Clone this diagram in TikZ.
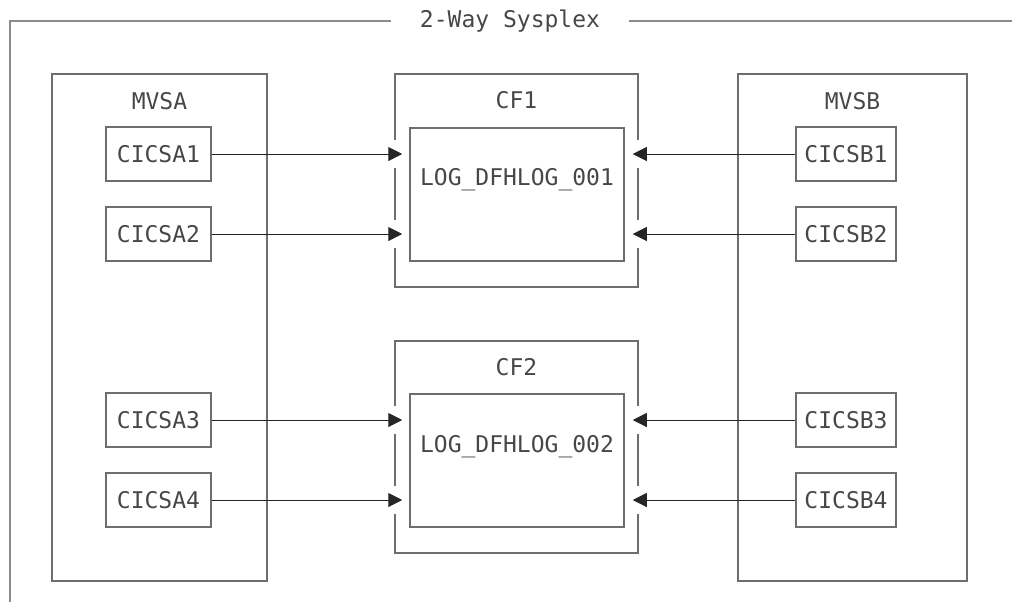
\documentclass[tikz,border=0pt]{standalone}
\usepackage{fontspec}
\setmonofont{DejaVu Sans Mono}
\usetikzlibrary{arrows.meta}
\definecolor{boxgray}{HTML}{6E6E6E}
\definecolor{framegray}{HTML}{8C8C8C}
\definecolor{linegray}{HTML}{262626}
\definecolor{txtgray}{HTML}{474747}
\tikzset{
    sysbox/.style 2 args={draw=boxgray, line width=0.75pt, inner sep=0pt,
        minimum width=#1, minimum height=#2},
    link/.style={draw=linegray, line width=0.5pt,
        -{Triangle[length=7pt,width=7pt]}},
    frame/.style={draw=framegray, line width=1pt},
}
\begin{document}
\begin{tikzpicture}[x=0.5pt,y=-0.5pt,
        every node/.style={font=\ttfamily\fontsize{11.5}{13}\selectfont, text=txtgray}]
        \useasboundingbox (0,0) rectangle (1012,602);
        %% sysplex frame
        \node[inner xsep=14.5pt] (sysplex) at (510,21) {2-Way Sysplex};
        \draw[frame] (sysplex.west) -- (10,21) -- (10,602);
        \draw[frame] (sysplex.east) -- (1012,21);
        %% MVS images
        \node[sysbox={107.5pt}{253.5pt}] (mvsa) at (159.5,327.5) {};
        \node (mvsalabel) at (159.5,101) {MVSA};
        \node[sysbox={114.5pt}{253.5pt}] (mvsb) at (852.5,327.5) {};
        \node (mvsblabel) at (852.5,101) {MVSB};
        \foreach \i/\y in {1/154,2/234,3/420,4/500} {
            \node[sysbox={52.5pt}{27pt}] (cicsa\i) at (158.5,\y) {CICSA\i};
            \node[sysbox={50pt}{27pt}] (cicsb\i) at (846,\y) {CICSB\i};
        }
        %% coupling facilities
        \node[sysbox={121.5pt}{106.5pt}] (cf1) at (516.5,180.5) {};
        \node (cf1label) at (516.5,100) {CF1};
        \node[sysbox={107pt}{66.5pt}] (log1) at (517,194.5) {};
        \node (log1label) at (517,180) {LOG\_DFHLOG\_001};
        \node[sysbox={121.5pt}{106pt}] (cf2) at (516.5,447) {};
        \node (cf2label) at (516.5,367) {CF2};
        \node[sysbox={107pt}{66.5pt}] (log2) at (517,460.5) {};
        \node (log2label) at (517,447) {LOG\_DFHLOG\_002};
        %% openings in the CF walls
        \foreach \i/\cf in {1/cf1,2/cf1,3/cf2,4/cf2} {
            \fill[white] (\cf.west |- cicsa\i) ++(-3,-14) rectangle ++(6,28);
            \fill[white] (\cf.east |- cicsb\i) ++(-3,-14) rectangle ++(6,28);
        }
        %% log stream connections
        \foreach \i/\lg in {1/log1,2/log1,3/log2,4/log2} {
            \draw[link] (cicsa\i.east) -- ([xshift=-3.5pt]\lg.west |- cicsa\i);
            \draw[link] (cicsb\i.west) -- ([xshift=4pt]\lg.east |- cicsb\i);
        }
\end{tikzpicture}
\end{document}
